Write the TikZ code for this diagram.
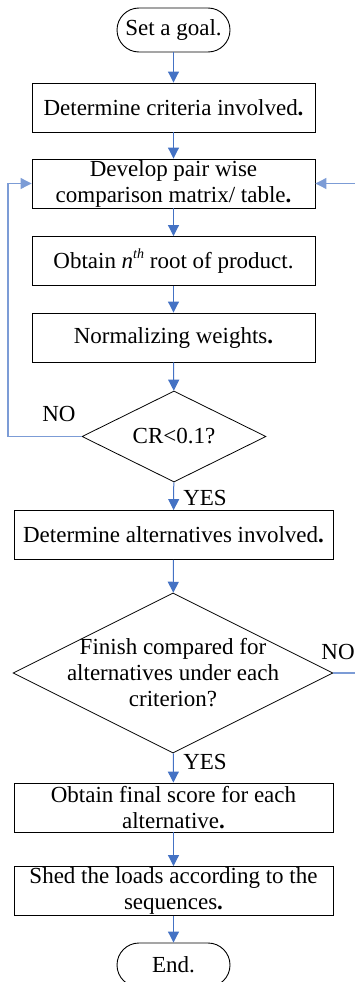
\documentclass[tikz,border=0pt]{standalone}
\usepackage{fontspec}
\setmainfont{Liberation Serif}
\usetikzlibrary{shapes.geometric,arrows.meta}
\definecolor{flowblue}{HTML}{4472C4}
\definecolor{loopblue}{HTML}{7C9CD6}
\begin{document}
\begin{tikzpicture}[x=1pt,y=-1pt,
  font=\fontsize{23}{26}\selectfont,
  box/.style={draw=black, line width=0.9pt, minimum width=283pt, minimum height=49pt, align=center, inner sep=0pt},
  widebox/.style={box, minimum width=319pt},
  term/.style={draw=black, line width=0.9pt, rounded corners=22pt, minimum width=113pt, minimum height=44pt, inner sep=0pt},
  decision/.style={draw=black, line width=0.8pt, diamond, inner sep=0pt},
  flow/.style={draw=flowblue, line width=1pt, -{Triangle[length=11pt,width=11pt]}},
  loop/.style={draw=loopblue, line width=1.1pt, -{Triangle[length=11pt,width=11pt]}},
  lbl/.style={inner sep=0pt}
]
\useasboundingbox (0,0) rectangle (355,982);
\clip (0,0) rectangle (355,982);

\node[term] (start) at (173.5,30) {Set a goal.};
\node[box] (crit) at (173.5,107.5) {Determine criteria involved{\bfseries .}};
\node[box] (pair) at (173.5,183.5) {Develop pair wise\\comparison matrix/ table{\bfseries .}};
\node[box] (root) at (173.5,261) {Obtain \textit{n}\raisebox{0.45em}{\fontsize{14}{14}\selectfont\textit{th}} root of product.};
\node[box] (norm) at (173.5,337.5) {Normalizing weights{\bfseries .}};
\node[decision, minimum width=184pt, minimum height=91pt] (cr) at (174,436.5) {};
\node[lbl] (crtxt) at (cr.center) {CR<0.1?};
\node[widebox] (alt) at (173.5,535) {Determine alternatives involved{\bfseries .}};
\node[decision, minimum width=320pt, minimum height=160pt] (fin) at (173,673) {};
\node[lbl, align=center] (fintxt) at (fin.center) {Finish compared for\\alternatives under each\\criterion?};
\node[widebox] (score) at (173.5,807.5) {Obtain final score for each\\alternative{\bfseries .}};
\node[widebox] (shed) at (173.5,891) {Shed the loads according to the\\sequences{\bfseries .}};
\node[term] (end) at (173.5,965) {End.};

\node[lbl, anchor=center] (no1) at (59,414) {NO};
\node[lbl, anchor=center] (yes1) at (205,498) {YES};
\node[lbl, anchor=center] (no2) at (338,652) {NO};
\node[lbl, anchor=center] (yes2) at (205,762) {YES};

\coordinate (lc) at (8,436.5);
\coordinate (rc) at (362,673);

\draw[flow] (start) -- (crit);
\draw[flow] (crit) -- (pair);
\draw[flow] (pair) -- (root);
\draw[flow] (root) -- (norm);
\draw[flow] (norm) -- (cr);
\draw[flow] (cr) -- (alt);
\draw[flow] (alt) -- (fin);
\draw[flow] (fin) -- (score);
\draw[flow] (score) -- (shed);
\draw[flow] (shed) -- (end);
\draw[loop] (cr.west) -- (lc) |- (pair.west);
\draw[loop] (fin.east) -- (rc) |- (pair.east);
\end{tikzpicture}
\end{document}
